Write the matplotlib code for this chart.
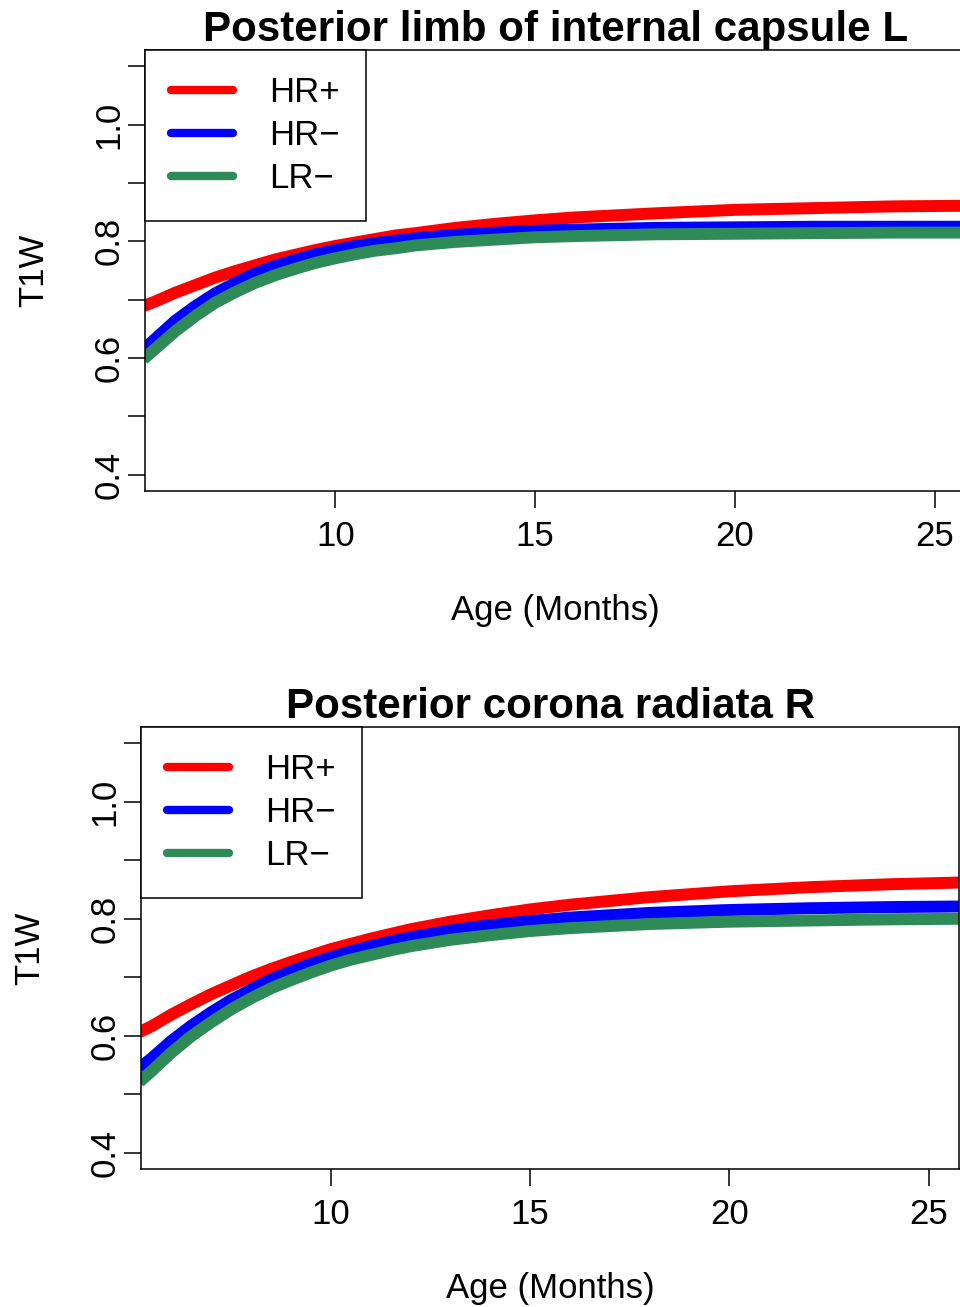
"""Fitted T1W maturation curves for two white-matter regions, by risk group."""

import matplotlib

matplotlib.use("Agg")
import matplotlib.pyplot as plt
from matplotlib.lines import Line2D

plt.rcParams["font.family"] = ["Liberation Sans", "DejaVu Sans"]

# ages (months) at which the fitted curves were read
AGE = [5.2, 5.5, 6, 6.5, 7, 7.5, 8, 8.5, 9, 9.5, 10, 10.5, 11, 11.5, 12,
       13, 14, 15, 16, 18, 20, 22, 24, 25.8]

# posterior limb of internal capsule, left
PLIC_HR_POS = [0.689, 0.697, 0.712, 0.725, 0.738, 0.749, 0.759, 0.769, 0.777,
               0.785, 0.792, 0.798, 0.804, 0.810, 0.814, 0.823, 0.830, 0.836,
               0.841, 0.848, 0.854, 0.857, 0.860, 0.861]
PLIC_HR_NEG = [0.615, 0.633, 0.664, 0.689, 0.711, 0.729, 0.745, 0.758, 0.768,
               0.778, 0.785, 0.792, 0.797, 0.801, 0.805, 0.811, 0.815, 0.818,
               0.820, 0.823, 0.824, 0.825, 0.825, 0.825]
PLIC_LR_NEG = [0.598, 0.616, 0.646, 0.672, 0.695, 0.713, 0.729, 0.742, 0.753,
               0.763, 0.771, 0.778, 0.784, 0.788, 0.793, 0.799, 0.803, 0.807,
               0.809, 0.812, 0.813, 0.814, 0.815, 0.815]

# posterior corona radiata, right
PCR_HR_POS = [0.606, 0.616, 0.636, 0.654, 0.671, 0.686, 0.701, 0.714, 0.726,
              0.737, 0.748, 0.757, 0.766, 0.774, 0.782, 0.795, 0.806, 0.816,
              0.824, 0.837, 0.847, 0.854, 0.859, 0.862]
PCR_HR_NEG = [0.545, 0.561, 0.591, 0.617, 0.640, 0.661, 0.679, 0.696, 0.710,
              0.723, 0.734, 0.744, 0.753, 0.761, 0.768, 0.780, 0.789, 0.796,
              0.802, 0.810, 0.815, 0.818, 0.820, 0.821]
PCR_LR_NEG = [0.521, 0.539, 0.571, 0.599, 0.623, 0.645, 0.664, 0.681, 0.695,
              0.708, 0.720, 0.730, 0.738, 0.746, 0.753, 0.764, 0.772, 0.779,
              0.784, 0.791, 0.795, 0.797, 0.799, 0.800]

GROUPS = ["HR+", "HR\u2212", "LR\u2212"]
COLORS = ["red", "blue", "seagreen"]
TITLES = ["Posterior limb of internal capsule L", "Posterior corona radiata R"]

X_TICKS = [10, 15, 20, 25]
Y_TICKS = [0.4, 0.5, 0.6, 0.7, 0.8, 0.9, 1.0, 1.1]
Y_TICK_LABELS = ["0.4", "", "0.6", "", "0.8", "", "1.0", ""]

W, H = 960, 1307
FS = 25


def draw_panel(ax, title, series):
    for values, color in zip(series, COLORS):
        ax.plot(AGE, values, color=color, lw=8.6, solid_capstyle="butt",
                solid_joinstyle="round")

    ax.set_xlim(5.24, 25.76)
    ax.set_ylim(0.372, 1.128)
    ax.set_xticks(X_TICKS)
    ax.set_xticklabels([str(t) for t in X_TICKS])
    ax.set_yticks(Y_TICKS)
    ax.set_yticklabels(Y_TICK_LABELS, rotation=90, va="center")
    ax.tick_params(axis="x", length=12.2, width=1.1, pad=9, labelsize=FS)
    ax.tick_params(axis="y", length=12.2, width=1.1, pad=2, labelsize=FS)
    for spine in ax.spines.values():
        spine.set_linewidth(1.1)

    ax.set_title(title, fontsize=30.3, fontweight="bold", pad=6)
    ax.text(0.5, -0.2335, "Age (Months)", transform=ax.transAxes,
            ha="center", va="top", fontsize=FS)
    ax.text(-0.136, 0.5, "T1W", transform=ax.transAxes, rotation=90,
            ha="center", va="center", fontsize=FS)

    handles = [Line2D([], [], color=c, lw=6, solid_capstyle="round") for c in COLORS]
    leg = ax.legend(handles, GROUPS, loc="upper left", fontsize=FS,
                    borderaxespad=0, borderpad=0.75, labelspacing=0.29,
                    handlelength=1.78, handletextpad=1.05, fancybox=False,
                    framealpha=1, edgecolor="black")
    leg.get_frame().set_linewidth(1.1)
    leg.set_zorder(5)


fig = plt.figure(figsize=(W / 100, H / 100), dpi=100)
ax_top = fig.add_axes([145 / W, 1 - 491 / H, 820.4 / W, 441 / H])
ax_bot = fig.add_axes([141 / W, 1 - 1169 / H, 818 / W, 442 / H])

draw_panel(ax_top, TITLES[0], [PLIC_HR_POS, PLIC_HR_NEG, PLIC_LR_NEG])
draw_panel(ax_bot, TITLES[1], [PCR_HR_POS, PCR_HR_NEG, PCR_LR_NEG])

fig.savefig("out.png", dpi=100)
